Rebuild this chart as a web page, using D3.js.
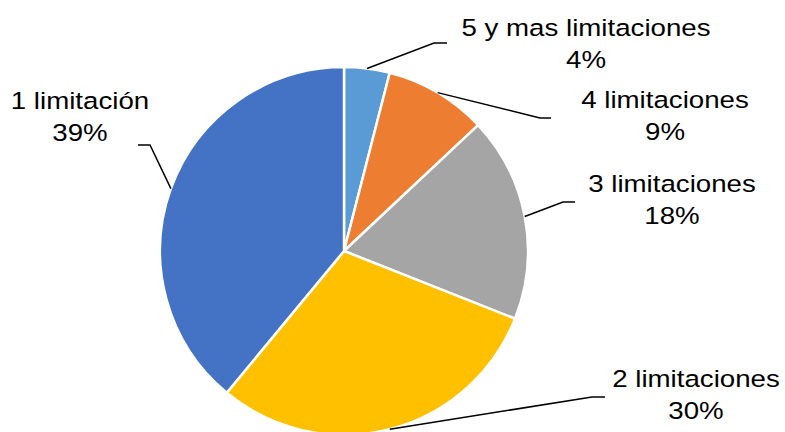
<!DOCTYPE html>
<html>
<head>
<meta charset="utf-8">
<script src="https://cdn.jsdelivr.net/npm/d3@7"></script>
<style>
  html, body { margin: 0; padding: 0; background: #fff; }
  svg { display: block; }
</style>
</head>
<body>
<script>
// Data
var categories = ['5 y mas limitaciones', '4 limitaciones', '3 limitaciones', '2 limitaciones', '1 limitación'];
var values = [4, 9, 18, 30, 39];
var pctLabels = ['4%', '9%', '18%', '30%', '39%'];
var colors = ['#5B9BD5', '#ED7D31', '#A5A5A5', '#FFC000', '#4472C4'];

// Size globals
var svgWidth = 785, svgHeight = 432;
var cx = 344, cy = 251, radius = 184;

// Label layout (centre x, first baseline, elbow of leader line)
var labelPos = [
  {x: 586, y: 36,  ex: 434, ey: 43,  hx: 447},
  {x: 665, y: 108, ex: 540, ey: 118, hx: 551},
  {x: 672, y: 192, ex: 563, ey: 202, hx: 575},
  {x: 696, y: 387, ex: 592, ey: 397, hx: 605},
  {x: 80,  y: 109, ex: 150, ey: 145, hx: 138}
];

var svg = d3.select('body').append('svg')
  .attr('width', svgWidth)
  .attr('height', svgHeight);

var pie = d3.pie().sort(null).value(function(d){ return d; });
var arcs = pie(values);
var arc = d3.arc().innerRadius(0).outerRadius(radius);

var g = svg.append('g').attr('transform', 'translate(' + cx + ',' + cy + ')');

g.selectAll('path')
  .data(arcs)
  .enter().append('path')
  .attr('d', arc)
  .attr('fill', function(d, i){ return colors[i]; })
  .attr('stroke', '#fff')
  .attr('stroke-width', 2.5)
  .attr('stroke-linejoin', 'round');

// Leader lines
svg.selectAll('polyline.leader')
  .data(arcs)
  .enter().append('polyline')
  .attr('class', 'leader')
  .attr('fill', 'none')
  .attr('stroke', '#000')
  .attr('stroke-width', 1.5)
  .attr('points', function(d, i){
    var a = (d.startAngle + d.endAngle) / 2;
    var sx = cx + radius * Math.sin(a);
    var sy = cy - radius * Math.cos(a);
    var p = labelPos[i];
    return [[sx, sy], [p.ex, p.ey], [p.hx, p.ey]].map(function(q){ return q.join(','); }).join(' ');
  });

// Labels
var lbl = svg.selectAll('g.lbl')
  .data(arcs)
  .enter().append('g')
  .attr('class', 'lbl')
  .attr('transform', function(d, i){
    return 'translate(' + labelPos[i].x + ',' + labelPos[i].y + ') scale(1.13,1)';
  });

lbl.append('text')
  .attr('text-anchor', 'middle')
  .attr('font-family', '"Liberation Sans", Arial, sans-serif')
  .attr('font-size', 24.5)
  .attr('fill', '#000')
  .text(function(d, i){ return categories[i]; });

lbl.append('text')
  .attr('text-anchor', 'middle')
  .attr('y', 32)
  .attr('font-family', '"Liberation Sans", Arial, sans-serif')
  .attr('font-size', 24.5)
  .attr('fill', '#000')
  .text(function(d, i){ return pctLabels[i]; });
</script>
</body>
</html>
